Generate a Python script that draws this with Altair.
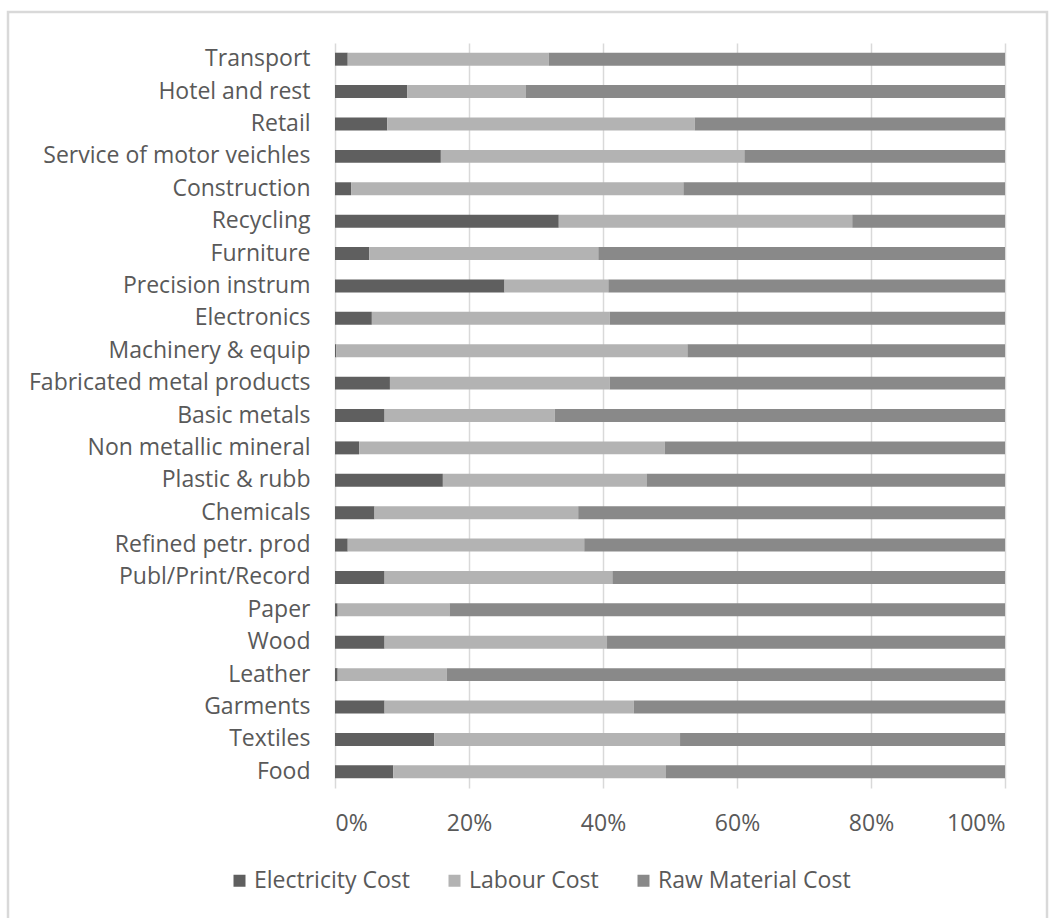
import altair as alt
import pandas as pd

categories = [
    "Transport", "Hotel and rest", "Retail", "Service of motor veichles",
    "Construction", "Recycling", "Furniture", "Precision instrum",
    "Electronics", "Machinery & equip", "Fabricated metal products",
    "Basic metals", "Non metallic mineral", "Plastic & rubb", "Chemicals",
    "Refined petr. prod", "Publ/Print/Record", "Paper", "Wood", "Leather",
    "Garments", "Textiles", "Food",
]
series = ["Electricity Cost", "Labour Cost", "Raw Material Cost"]
electricity = [1.9, 10.8, 7.8, 15.8, 2.4, 33.4, 5.1, 25.3, 5.5, 0.2, 8.2, 7.4,
               3.6, 16.1, 5.9, 1.9, 7.4, 0.4, 7.4, 0.4, 7.4, 14.8, 8.7]
labour = [30.0, 17.7, 45.9, 45.3, 49.6, 43.8, 34.2, 15.5, 35.5, 52.4, 32.8, 25.4,
          45.6, 30.4, 30.4, 35.3, 34.0, 16.7, 33.2, 16.3, 37.2, 36.7, 40.7]
raw_material = [68.1, 71.5, 46.3, 38.9, 48.0, 22.8, 60.7, 59.2, 59.0, 47.4, 59.0, 67.2,
                50.8, 53.5, 63.7, 62.8, 58.6, 82.9, 59.4, 83.3, 55.4, 48.5, 50.6]
colors = ["#5f5f5f", "#b3b3b3", "#898989"]

rows = []
for i, c in enumerate(categories):
    for k, (s, vals) in enumerate(zip(series, [electricity, labour, raw_material])):
        rows.append({"Sector": c, "Cost": s, "Value": vals[i], "order": k})
df = pd.DataFrame(rows)

FONT = "Open Sans"
TXT = "#595959"
FS = 23

bars = alt.Chart(df).mark_bar().encode(
    y=alt.Y("Sector:N", sort=categories, title=None,
            scale=alt.Scale(paddingInner=0.6, paddingOuter=0.3),
            axis=alt.Axis(domain=False, ticks=False, labelPadding=25,
                          labelFontSize=FS, labelFont=FONT, labelColor=TXT,
                          labelLimit=400, grid=False)),
    x=alt.X("Value:Q", stack="normalize", title=None,
            scale=alt.Scale(domain=[0, 1]),
            axis=alt.Axis(format=".0%", values=[0, 0.2, 0.4, 0.6, 0.8, 1.0],
                          domain=False, ticks=False, labelPadding=24,
                          labelFontSize=FS, labelFont=FONT, labelColor=TXT,
                          grid=True, gridColor="#d9d9d9", gridWidth=1.5)),
    color=alt.Color("Cost:N", scale=alt.Scale(domain=series, range=colors),
                    legend=alt.Legend(title=None, orient="none", direction="horizontal",
                                      legendX=-107, legendY=826,
                                      symbolType="square", symbolSize=144,
                                      symbolStrokeWidth=0, labelFontSize=FS,
                                      labelFont=FONT, labelColor=TXT,
                                      labelOffset=3, columnPadding=33,
                                      padding=0, labelLimit=400)),
    order=alt.Order("order:Q"),
)

border = alt.Chart(pd.DataFrame({"a": [0]})).mark_rect(
    fill=None, stroke="#d9d9d9", strokeWidth=2.5
).encode(
    x=alt.value(-327), x2=alt.value(712), y=alt.value(-31), y2=alt.value(885)
)

chart = alt.layer(border, bars).properties(
    width=670, height=745,
    padding={"left": 335, "top": 43, "right": 51, "bottom": 130},
    autosize=alt.AutoSizeParams(type="none"),
    background="white",
).configure_view(stroke=None)

chart.save("out.html", embed_options={"renderer": "svg", "actions": False})
